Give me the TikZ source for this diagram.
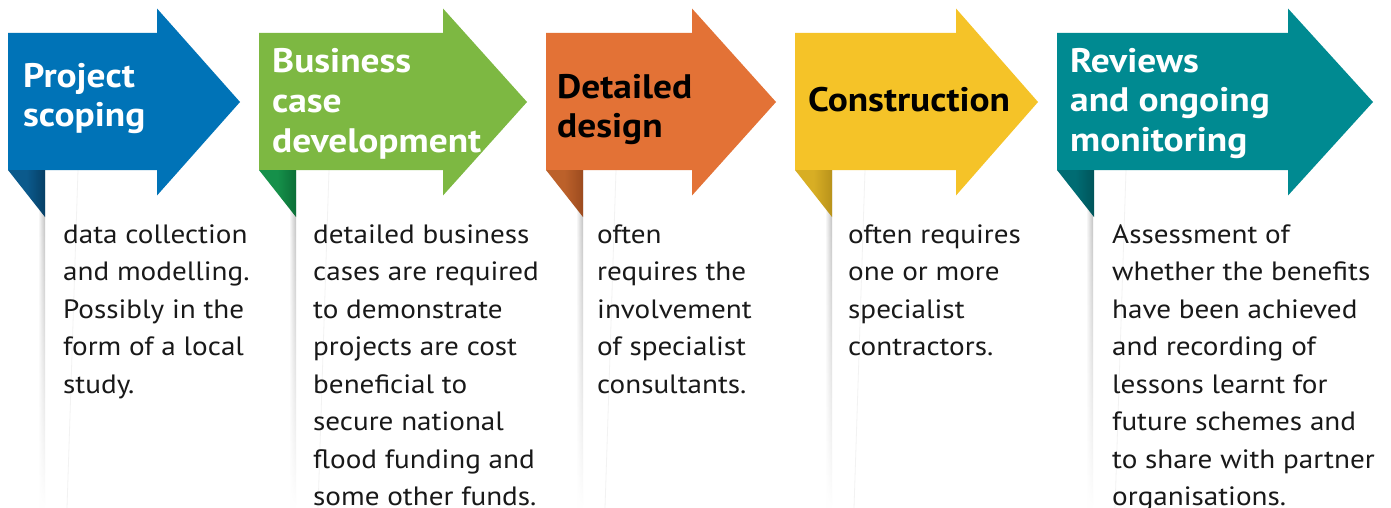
\documentclass[tikz,border=0pt]{standalone}
\usepackage{fontspec}
\setmainfont[FakeStretch=1.1]{PT Sans}
\usetikzlibrary{fadings}
\definecolor{cblue}{HTML}{0073B7}
\definecolor{cbluea}{HTML}{0B5A8C}
\definecolor{cblueb}{HTML}{063F66}
\definecolor{cgreen}{HTML}{7DB842}
\definecolor{cgreena}{HTML}{15904A}
\definecolor{cgreenb}{HTML}{0C6E37}
\definecolor{corange}{HTML}{E37236}
\definecolor{corangea}{HTML}{BC612A}
\definecolor{corangeb}{HTML}{9C4B1F}
\definecolor{cyellow}{HTML}{F5C328}
\definecolor{cyellowa}{HTML}{D8AE24}
\definecolor{cyellowb}{HTML}{B8921B}
\definecolor{cteal}{HTML}{008A91}
\definecolor{cteala}{HTML}{006C73}
\definecolor{ctealb}{HTML}{00545A}
\tikzset{
  headtxt/.style={anchor=base west, inner sep=0pt, align=left,
    font=\fontsize{34}{39.5}\selectfont\bfseries},
  bodytxt/.style={anchor=base west, inner sep=0pt, align=left,
    font=\fontsize{26.5}{37.5}\selectfont, text=black!90},
}
\begin{document}
\begin{tikzpicture}[x=1pt,y=-1pt]
\useasboundingbox (0,0) rectangle (1391,508);
\fill[white] (0,0) rectangle (1391,508);
% shadows and faint lines of the text panels
\foreach \F in {45,296,583,832,1093}{
  \shade[left color=white, right color=black!28, path fading=south]
    (\F-7,170) rectangle (\F,508);
  \draw[black!5, line width=0.8pt] (\F+33,170) -- (\F+22,508);
}
% arrows
\foreach \L/\H/\T/\c in {8/157/240/cblue, 259/443/527/cgreen, 546/692/776/corange, 795/956/1038/cyellow, 1057/1288/1373/cteal}{
  \fill[\c] (\L,33) -- (\H,33) -- (\H,8.5) -- (\T,102) -- (\H,195.5) -- (\H,170) -- (\L,170) -- cycle;
}
% folds
\foreach \L/\a/\b in {8/cbluea/cblueb, 259/cgreena/cgreenb, 546/corangea/corangeb, 795/cyellowa/cyellowb, 1057/cteala/ctealb}{
  \shade[left color=\a, right color=\b, middle color=\a] (\L,170) -- (\L+37,170) -- (\L+37,217) -- cycle;
}
% headings (anchored at the baseline of the last line)
\node[headtxt, text=white] (h1) at (23,126.5) {Project\\scoping};
\node[headtxt, text=white] (h2) at (272,152) {Business\\case\\development};
\node[headtxt, text=black] (h3) at (557,137.5) {Detailed\\design};
\node[headtxt, text=black] (h4) at (808,112) {Construction};
\node[headtxt, text=white] (h5) at (1070,151) {Reviews\\and ongoing\\monitoring};
% body texts (anchored at the baseline of the last line)
\node[bodytxt] (b1) at (63,393) {data collection\\and modelling.\\Possibly in the\\form of a local\\study.};
\node[bodytxt] (b2) at (313,505.5) {detailed business\\cases are required\\to demonstrate\\projects are cost\\beneficial to\\secure national\\flood funding and\\some other funds.};
\node[bodytxt] (b3) at (597,393) {often\\requires the\\involvement\\of specialist\\consultants.};
\node[bodytxt] (b4) at (848,355.5) {often requires\\one or more\\specialist\\contractors.};
\node[bodytxt] (b5) at (1112,505.5) {Assessment of\\whether the benefits\\have been achieved\\and recording of\\lessons learnt for\\future schemes and\\to share with partner\\organisations.};
\end{tikzpicture}
\end{document}
